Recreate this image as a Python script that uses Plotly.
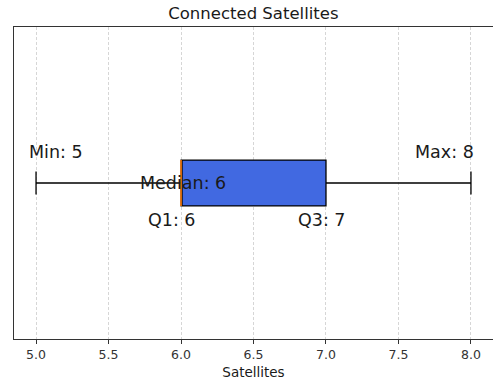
import plotly.graph_objects as go

# Five-number summary of connected satellites
stat_names = ["Min", "Q1", "Median", "Q3", "Max"]
stat_values = [5, 6, 6, 7, 8]

# Label positions (x in data units, y relative to the box row)
label_x = [5.14, 5.935, 6.014, 6.97, 7.818]
label_y = [1.099, 0.881, 1.0, 0.881, 1.099]

tick_vals = [5.0, 5.5, 6.0, 6.5, 7.0, 7.5, 8.0]
tick_text = ["5.0", "5.5", "6.0", "6.5", "7.0", "7.5", "8.0"]

vmin, q1, med, q3, vmax = stat_values
box_w = 0.147

FONT = "DejaVu Sans"

fig = go.Figure()

fig.add_trace(go.Box(
    y=[1],
    q1=[q1], median=[med], q3=[q3],
    lowerfence=[vmin], upperfence=[vmax],
    orientation="h",
    width=box_w,
    whiskerwidth=0.5,
    fillcolor="royalblue",
    line=dict(color="black", width=1.3),
    boxpoints=False,
    hoverinfo="skip",
    showlegend=False,
))

# Median marker drawn in orange on top of the box
fig.add_trace(go.Scatter(
    x=[med, med], y=[1 - box_w / 2, 1 + box_w / 2],
    mode="lines", line=dict(color="#ff7f0e", width=1.6),
    hoverinfo="skip", showlegend=False,
))

for name, val, lx, ly in zip(stat_names, stat_values, label_x, label_y):
    fig.add_annotation(
        x=lx, y=ly, text=f"{name}: {val}", showarrow=False,
        xanchor="center", yanchor="middle",
        font=dict(family=FONT, size=17.5, color="#1a1a1a"),
    )

fig.update_layout(
    width=493, height=388,
    margin=dict(l=14, r=0, t=27, b=49),
    paper_bgcolor="white", plot_bgcolor="white",
    title=dict(
        text="Connected Satellites", x=0.514, xanchor="center",
        y=1 - 13 / 388, yanchor="middle",
        font=dict(family=FONT, size=16.5, color="#1a1a1a"),
    ),
    xaxis=dict(
        range=[4.848, 8.152],
        tickvals=tick_vals, ticktext=tick_text,
        ticks="outside", ticklen=4, tickcolor="#333",
        showgrid=True, gridcolor="#d6d6d6", griddash="3px,2px", gridwidth=1,
        showline=True, linecolor="#333", linewidth=1.2, mirror=True,
        zeroline=False,
        tickfont=dict(family=FONT, size=12.5, color="#333"),
        title=dict(text="Satellites", standoff=6,
                   font=dict(family=FONT, size=13.5, color="#1a1a1a")),
    ),
    yaxis=dict(
        range=[0.5, 1.5], showticklabels=False, ticks="",
        showgrid=False, zeroline=False,
        showline=True, linecolor="#333", linewidth=1.2, mirror=True,
    ),
)

fig.write_html("out.html")
